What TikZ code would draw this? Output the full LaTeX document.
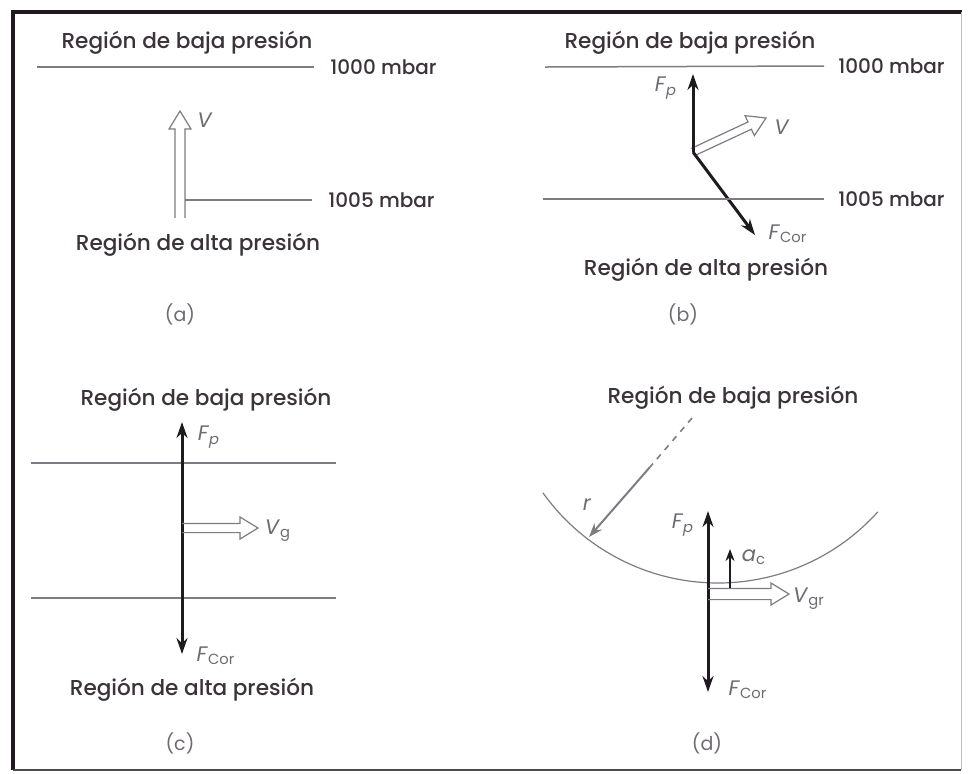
\documentclass[tikz,border=0pt]{standalone}
\usepackage{fontspec}
\setmainfont{Poppins}
\newfontfamily\regionfont{Poppins Medium}
\usepackage{xcolor}
\usepackage{tikz}
\usetikzlibrary{arrows.meta, positioning, calc}
\definecolor{presInk}{HTML}{3B3339}
\definecolor{presGrey}{HTML}{6F6A72}
\definecolor{presLine}{HTML}{807B82}
\definecolor{presBlack}{HTML}{1F1A1F}
\tikzset{
  regiontext/.style={font=\regionfont\fontsize{10.8}{12}\selectfont, text=presInk, inner sep=0pt},
  isolabel/.style={font=\regionfont\fontsize{10}{12}\selectfont, text=presInk, anchor=west, inner sep=0pt},
  vlabel/.style={font=\fontsize{10.5}{11}\selectfont, text=presGrey, inner sep=0pt},
  caption/.style={font=\fontsize{9.5}{10}\selectfont, text=presGrey, inner sep=0pt},
  isobar/.style={draw=presLine, line width=0.75pt},
  force/.style={draw=presBlack, line width=1.5pt, -{Stealth[length=8pt, width=5.5pt]}},
  hollowline/.style={draw=presLine, line width=0.6pt, line join=miter},
}
\newcommand{\forcelab}[2]{\textit{#1}\textsubscript{#2}}
% open outline arrow from #2 to #3, half body width #1
\newcommand{\hollowarrow}[3][2.3pt]{%
  \coordinate (hb) at ($(#3)!9pt!(#2)$);
  \draw[hollowline] ($(#2)!#1!90:(#3)$) -- ($(hb)!#1!90:(#3)$) -- ($(hb)!5.5pt!90:(#3)$)
    -- (#3) -- ($(hb)!5.5pt!-90:(#3)$) -- ($(hb)!#1!-90:(#3)$) -- ($(#2)!#1!-90:(#3)$);}

\begin{document}
\begin{tikzpicture}[x=0.5pt, y=-0.5pt]
\useasboundingbox (0,0) rectangle (968,773);
% frame
\draw[presBlack, line width=2pt] (13,770) -- (13,12) -- (962,12);
\draw[presBlack!80, line width=1pt] (13,770) -- (961,770);
\draw[presLine!50, line width=0.5pt] (961,12) -- (961,770);

% (a)
\node[regiontext] (lowA) at (187,43) {Región de baja presión};
\coordinate (a1L) at (37,67);
\node[isolabel] (a1000) at (330,67) {1000 mbar};
\draw[isobar] (a1L) -- ([xshift=-8pt]a1000.west);
\coordinate (aV0) at (180,218);
\coordinate (aVtip) at (180,111);
\hollowarrow[2.5pt]{aV0}{aVtip}
\node[vlabel] (aV) at (205,120) {\textit{V}};
\coordinate (a2L) at (185,200);
\node[isolabel] (a1005) at (328,200) {1005 mbar};
\draw[isobar, line width=1.1pt] (a2L) -- ([xshift=-8pt]a1005.west);
\node[regiontext] (highA) at (198,245) {Región de alta presión};

% (b)
\node[regiontext] (lowB) at (690,43) {Región de baja presión};
\coordinate (b1L) at (545,67);
\node[isolabel] (b1000) at (838,66) {1000 mbar};
\draw[isobar] (b1L) -- ([xshift=-7pt]b1000.west);
\coordinate (bO) at (693,152);
\coordinate (bFp) at (693,74);
\coordinate (bV) at (766,118);
\coordinate (bFc) at (755,235);
\hollowarrow[2pt]{bO}{bV}
\draw[force] (bO) -- (bFp);
\draw[force] (bO) -- (bFc);
\node[vlabel] (bFpl) at (666,88) {\forcelab{F}{\textit{p}}};
\node[vlabel] (bVl) at (782,127) {\textit{V}};
\node[vlabel] (bFcl) at (788,234) {\forcelab{F}{Cor}};
\coordinate (b2L) at (543,199);
\node[isolabel] (b1005) at (838,199) {1005 mbar};
\draw[isobar] (b2L) -- ([xshift=-7pt]b1005.west);
\node[regiontext] (highB) at (706,270) {Región de alta presión};

% (c)
\node[regiontext] (lowC) at (206,400) {Región de baja presión};
\coordinate (c1L) at (31,463);
\coordinate (c1R) at (336,463);
\coordinate (c2L) at (31,598);
\coordinate (c2R) at (336,598);
\draw[isobar] (c1L) -- (c1R);
\draw[isobar] (c2L) -- (c2R);
\coordinate (cO) at (182,528);
\coordinate (cFp) at (182,422);
\coordinate (cFc) at (182,654);
\coordinate (cV) at (258,528);
\draw[force] (cO) -- (cFp);
\draw[force] (cO) -- (cFc);
\hollowarrow{cO}{cV}
\node[vlabel] (cFpl) at (209,437) {\forcelab{F}{\textit{p}}};
\node[vlabel] (cVl) at (278,531) {\forcelab{V}{g}};
\node[vlabel] (cFcl) at (216,656) {\forcelab{F}{Cor}};
\node[regiontext] (highC) at (192,690) {Región de alta presión};

% (d)
\node[regiontext] (lowD) at (733,398) {Región de baja presión};
\coordinate (dC) at (718,368);
\draw[isobar, line width=0.6pt] ([shift={(144.5:215)}]dC) arc[start angle=144.5, end angle=42, radius=215];
\coordinate (dR0) at (692,418);
\coordinate (dRm) at (650,467);
\coordinate (dR) at (589,537);
\draw[presLine, line width=0.8pt, dashed] (dR0) -- (dRm);
\draw[presLine, line width=1pt, -{Stealth[length=7pt, width=5pt]}] (dRm) -- (dR);
\node[vlabel] (dRl) at (587,505) {\textit{r}};
\coordinate (dO) at (708,584);
\coordinate (dFp) at (708,511);
\coordinate (dFc) at (708,692);
\coordinate (dV0) at (708,594);
\coordinate (dV) at (789,594);
\coordinate (dA0) at (730,588);
\coordinate (dA) at (730,549);
\draw[force] (dO) -- (dFp);
\draw[force] (dO) -- (dFc);
\hollowarrow[2.8pt]{dV0}{dV}
\draw[force, line width=1.2pt, -{Stealth[length=6pt, width=4.5pt]}] (dA0) -- (dA);
\node[vlabel] (dFpl) at (683,525) {\forcelab{F}{\textit{p}}};
\node[vlabel] (dAl) at (754,557) {\forcelab{a}{c}};
\node[vlabel] (dVl) at (809,599) {\forcelab{V}{gr}};
\node[vlabel] (dFcl) at (748,690) {\forcelab{F}{Cor}};

% captions
\foreach \lab/\cx/\cy in {a/180/314, b/683/314, c/180/743, d/707/743}
  \node[caption] (cap\lab) at (\cx,\cy) {(\lab)};
\end{tikzpicture}
\end{document}
